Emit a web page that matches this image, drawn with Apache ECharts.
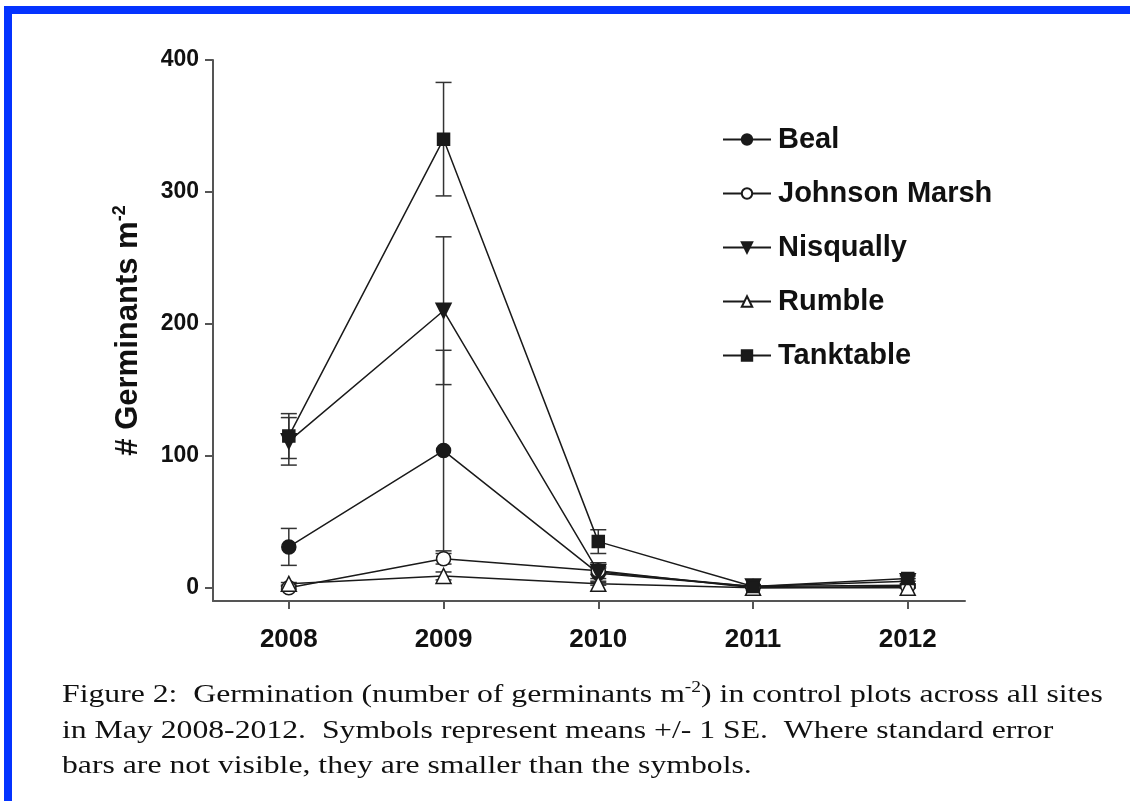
<!DOCTYPE html>
<html>
<head>
<meta charset="utf-8">
<script src="https://cdn.jsdelivr.net/npm/echarts@6/dist/echarts.min.js"></script>
<style>
  html, body { margin: 0; padding: 0; background: #fff; }
  #chart { width: 1130px; height: 801px; }
</style>
</head>
<body>
<div id="chart"></div>
<script>
// values (means and +/- 1 SE)
const years = [2008, 2009, 2010, 2011, 2012]
const yTicks = [0, 100, 200, 300, 400]

const sites = ['Beal', 'Johnson Marsh', 'Nisqually', 'Rumble', 'Tanktable']

const bealMean = [31, 104, 11, 1, 2]
const bealSe = [14, 76, 4, 1, 1]
const johnsonMean = [0, 22, 13, 0, 1]
const johnsonSe = [1, 4, 3, 0, 1]
const nisquallyMean = [111, 210, 12, 1, 5]
const nisquallySe = [18, 56, 7, 1, 2]
const rumbleMean = [3, 9, 3, 0, 0]
const rumbleSe = [1, 3, 1, 0, 0]
const tanktableMean = [115, 340, 35, 1, 7]
const tanktableSe = [17, 43, 9, 1, 2]

const ink = '#1a1a1a'
const axisGrey = '#555'
const sans = '"Liberation Sans", Arial, sans-serif'
const serif = '"Liberation Serif", "Times New Roman", serif'

function points(mean) {
  return years.map((y, i) => [y, mean[i]])
}
function errPoints(mean, se) {
  return years.map((y, i) => [y, mean[i], se[i]])
}

function lineSeries(name, mean, symbol, fill, size, rotate) {
  return {
    name: name,
    type: 'line',
    data: points(mean),
    symbol: symbol,
    symbolSize: size,
    symbolRotate: rotate || 0,
    showAllSymbol: true,
    z: 3,
    lineStyle: { color: ink, width: 1.5 },
    itemStyle: { color: fill, borderColor: ink, borderWidth: 1.5 },
    emphasis: { disabled: true },
    animation: false
  }
}

function errorSeries(mean, se) {
  return {
    type: 'custom',
    data: errPoints(mean, se),
    encode: { x: 0, y: 1 },
    z: 2,
    silent: true,
    animation: false,
    renderItem(params, api) {
      const x = api.value(0)
      const m = api.value(1)
      const e = api.value(2)
      const top = api.coord([x, m + e])
      const bot = api.coord([x, m - e])
      const w = 8
      const style = { stroke: '#333', lineWidth: 1.5 }
      return {
        type: 'group',
        children: [
          { type: 'line', shape: { x1: top[0], y1: top[1], x2: bot[0], y2: bot[1] }, style: style },
          { type: 'line', shape: { x1: top[0] - w, y1: top[1], x2: top[0] + w, y2: top[1] }, style: style },
          { type: 'line', shape: { x1: bot[0] - w, y1: bot[1], x2: bot[0] + w, y2: bot[1] }, style: style }
        ]
      }
    }
  }
}

// caption is drawn a little wider than the font, like the scanned figure
function captionLine(y, text, rich) {
  return {
    type: 'text', x: 62, y: y, scaleX: 1.22, silent: true,
    style: {
      text: text,
      rich: rich,
      fontFamily: serif, fontSize: 26, lineHeight: 30, fill: '#111',
      verticalAlign: 'middle'
    }
  }
}

const chart = echarts.init(document.getElementById('chart'))

chart.setOption({
  backgroundColor: '#fff',
  animation: false,
  grid: { left: 213, right: 165, top: 60, bottom: 200 },
  legend: {
    data: sites,
    orient: 'vertical',
    left: 717,
    top: 120,
    itemWidth: 48,
    itemHeight: 13,
    itemGap: 25,
    selectedMode: false,
    textStyle: {
      fontFamily: sans,
      fontWeight: 'bold',
      fontSize: 29,
      lineHeight: 28,
      color: '#111',
      padding: [0, 0, 0, 2]
    }
  },
  xAxis: {
    type: 'value',
    min: 2007.51,
    max: 2012.37,
    splitLine: { show: false },
    axisLine: { onZero: false, lineStyle: { color: axisGrey, width: 2 } },
    axisTick: { customValues: years, length: 8, lineStyle: { color: axisGrey, width: 2 } },
    axisLabel: {
      customValues: years,
      formatter: v => String(v),
      margin: 26,
      fontFamily: sans,
      fontWeight: 'bold',
      fontSize: 26,
      color: '#111'
    }
  },
  yAxis: {
    type: 'value',
    min: -10,
    max: 400,
    splitLine: { show: false },
    axisLine: { show: true, onZero: false, lineStyle: { color: axisGrey, width: 2 } },
    axisTick: { show: true, customValues: yTicks, length: 8, lineStyle: { color: axisGrey, width: 2 } },
    axisLabel: {
      customValues: yTicks,
      margin: 14,
      fontFamily: sans,
      fontWeight: 'bold',
      fontSize: 23,
      color: '#111'
    },
    name: '{a|# Germinants m}{s|-2}',
    nameLocation: 'middle',
    nameRotate: 90,
    nameGap: 68,
    nameTextStyle: {
      rich: {
        a: { fontFamily: sans, fontWeight: 'bold', fontSize: 31, lineHeight: 34, color: '#111' },
        s: { fontFamily: sans, fontWeight: 'bold', fontSize: 18, lineHeight: 18, verticalAlign: 'top', color: '#111' }
      }
    }
  },
  graphic: [
    { type: 'rect', left: 4, top: 6, shape: { width: 1126, height: 8 }, style: { fill: '#0433ff' }, silent: true },
    { type: 'rect', left: 4, top: 6, shape: { width: 8, height: 795 }, style: { fill: '#0433ff' }, silent: true },
    captionLine(695, '{t|Figure 2:  Germination (number of germinants m}{s|-2}{t|) in control plots across all sites}', {
      t: { fontFamily: serif, fontSize: 26, lineHeight: 30, fill: '#111' },
      s: { fontFamily: serif, fontSize: 16, lineHeight: 16, verticalAlign: 'top', fill: '#111' }
    }),
    captionLine(731, 'in May 2008-2012.  Symbols represent means +/- 1 SE.  Where standard error'),
    captionLine(766, 'bars are not visible, they are smaller than the symbols.')
  ],
  series: [
    errorSeries(bealMean, bealSe),
    errorSeries(johnsonMean, johnsonSe),
    errorSeries(nisquallyMean, nisquallySe),
    errorSeries(rumbleMean, rumbleSe),
    errorSeries(tanktableMean, tanktableSe),
    lineSeries('Beal', bealMean, 'circle', ink, 14),
    lineSeries('Johnson Marsh', johnsonMean, 'circle', '#fff', 14),
    lineSeries('Nisqually', nisquallyMean, 'triangle', ink, 15, 180),
    lineSeries('Rumble', rumbleMean, 'triangle', '#fff', 15),
    lineSeries('Tanktable', tanktableMean, 'rect', ink, 12)
  ]
})
</script>
</body>
</html>
